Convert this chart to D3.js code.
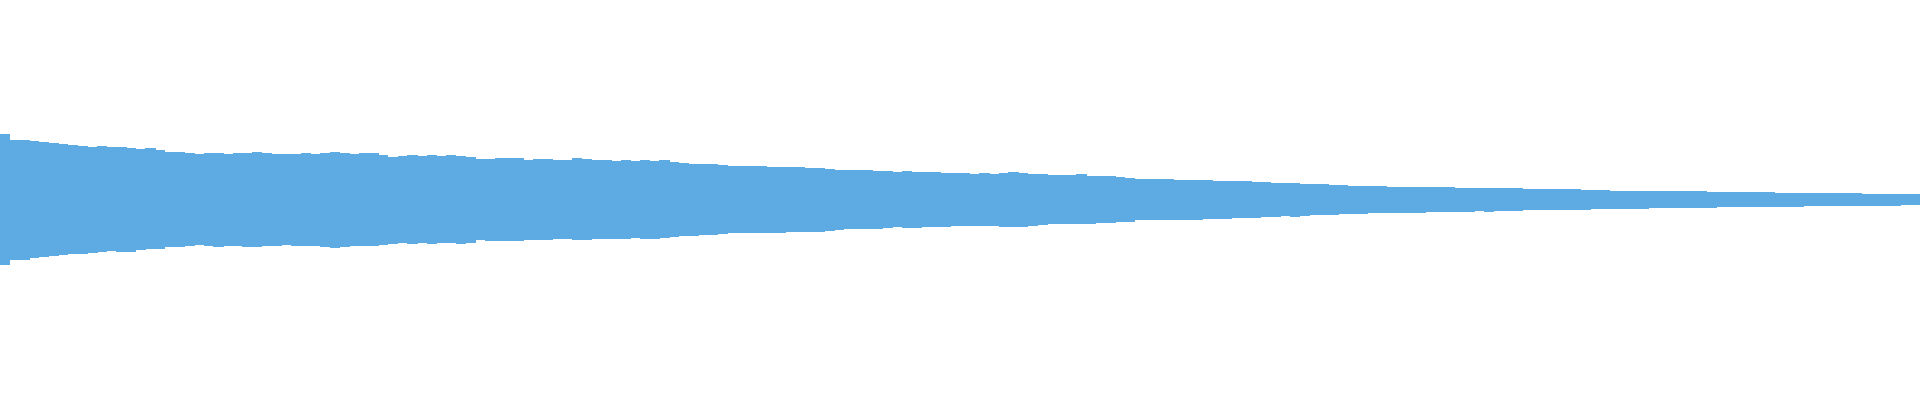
<!DOCTYPE html>
<html>
<head>
<meta charset="utf-8">
<style>
  html, body { margin: 0; padding: 0; background: #ffffff; overflow: hidden; }
  svg { display: block; }
</style>
<script src="https://cdn.jsdelivr.net/npm/d3@7/dist/d3.min.js"></script>
</head>
<body>
<svg id="chart"></svg>
<script>
// Waveform peaks (normalized amplitude, -1..1), one pair per column bucket
const peakMax = [
  0.330, 0.300, 0.300, 0.297, 0.289, 0.287, 0.279, 0.275, 0.272, 0.265, 0.269, 0.265, 0.267, 0.262, 0.257, 0.259, 0.252, 0.242, 0.239, 0.234, 0.229, 0.234,
  0.237, 0.232, 0.235, 0.235, 0.240, 0.235, 0.230, 0.229, 0.232, 0.235, 0.230, 0.235, 0.239, 0.235, 0.232, 0.235, 0.234, 0.225, 0.217, 0.222, 0.225, 0.222,
  0.224, 0.219, 0.225, 0.222, 0.217, 0.207, 0.207, 0.210, 0.212, 0.210, 0.202, 0.205, 0.204, 0.200, 0.199, 0.209, 0.207, 0.202, 0.199, 0.197, 0.202, 0.197,
  0.200, 0.197, 0.202, 0.190, 0.185, 0.179, 0.180, 0.179, 0.175, 0.170, 0.170, 0.172, 0.172, 0.167, 0.167, 0.165, 0.165, 0.162, 0.160, 0.157, 0.152, 0.149,
  0.150, 0.150, 0.147, 0.144, 0.140, 0.144, 0.140, 0.142, 0.140, 0.137, 0.134, 0.134, 0.132, 0.134, 0.132, 0.137, 0.139, 0.137, 0.132, 0.129, 0.124, 0.125,
  0.127, 0.129, 0.122, 0.122, 0.120, 0.115, 0.112, 0.105, 0.105, 0.105, 0.105, 0.100, 0.100, 0.100, 0.100, 0.097, 0.097, 0.095, 0.095, 0.090, 0.090, 0.087,
  0.087, 0.085, 0.080, 0.079, 0.079, 0.075, 0.074, 0.072, 0.072, 0.070, 0.070, 0.065, 0.065, 0.067, 0.065, 0.065, 0.065, 0.065, 0.060, 0.060, 0.060, 0.060,
  0.060, 0.060, 0.060, 0.055, 0.055, 0.055, 0.055, 0.055, 0.055, 0.050, 0.050, 0.050, 0.047, 0.047, 0.045, 0.045, 0.045, 0.045, 0.045, 0.044, 0.044, 0.044,
  0.040, 0.040, 0.040, 0.040, 0.040, 0.040, 0.039, 0.035, 0.035, 0.035, 0.035, 0.035, 0.035, 0.035, 0.035, 0.035, 0.030, 0.030, 0.030, 0.030, 0.030, 0.030
];
const peakMin = [
  -0.325, -0.300, -0.300, -0.292, -0.284, -0.280, -0.275, -0.269, -0.272, -0.264, -0.262, -0.255, -0.262, -0.259, -0.252, -0.247, -0.245, -0.235, -0.235, -0.229, -0.225, -0.230,
  -0.234, -0.230, -0.230, -0.235, -0.234, -0.232, -0.229, -0.225, -0.229, -0.232, -0.232, -0.234, -0.239, -0.235, -0.232, -0.232, -0.232, -0.225, -0.219, -0.217, -0.220, -0.217,
  -0.220, -0.215, -0.215, -0.219, -0.214, -0.202, -0.205, -0.205, -0.205, -0.205, -0.199, -0.200, -0.202, -0.197, -0.197, -0.202, -0.202, -0.197, -0.195, -0.194, -0.194, -0.192,
  -0.195, -0.194, -0.192, -0.185, -0.180, -0.179, -0.177, -0.175, -0.172, -0.167, -0.167, -0.167, -0.167, -0.165, -0.164, -0.162, -0.162, -0.160, -0.160, -0.155, -0.150, -0.147,
  -0.147, -0.144, -0.144, -0.140, -0.137, -0.139, -0.139, -0.137, -0.137, -0.134, -0.130, -0.130, -0.130, -0.130, -0.130, -0.134, -0.135, -0.134, -0.130, -0.125, -0.120, -0.122,
  -0.120, -0.122, -0.119, -0.117, -0.117, -0.112, -0.109, -0.102, -0.102, -0.102, -0.102, -0.100, -0.099, -0.099, -0.097, -0.094, -0.094, -0.092, -0.090, -0.089, -0.087, -0.084,
  -0.082, -0.084, -0.079, -0.077, -0.075, -0.074, -0.072, -0.070, -0.069, -0.067, -0.065, -0.065, -0.065, -0.065, -0.064, -0.060, -0.060, -0.060, -0.060, -0.060, -0.057, -0.059,
  -0.055, -0.055, -0.055, -0.052, -0.052, -0.050, -0.050, -0.050, -0.050, -0.049, -0.045, -0.045, -0.044, -0.044, -0.044, -0.044, -0.040, -0.040, -0.040, -0.040, -0.040, -0.039,
  -0.039, -0.037, -0.035, -0.035, -0.035, -0.035, -0.035, -0.034, -0.034, -0.034, -0.032, -0.032, -0.032, -0.030, -0.030, -0.029, -0.029, -0.029, -0.029, -0.029, -0.025, -0.027
];

const W = 1920, H = 400;
const waveColor = "#5dabe2";

const svg = d3.select("#chart").attr("width", W).attr("height", H);

const n = peakMax.length;
const x = d3.scaleLinear().domain([0, n]).range([0, W]);
const y = d3.scaleLinear().domain([-1, 1]).range([H, 0]);

const buckets = d3.range(n).map(i => ({ i, max: peakMax[i], min: peakMin[i] }));

svg.append("g")
  .attr("shape-rendering", "crispEdges")
  .selectAll("rect")
  .data(buckets)
  .join("rect")
  .attr("x", d => x(d.i))
  .attr("width", d => x(d.i + 1) - x(d.i) + 0.6)
  .attr("y", d => y(d.max))
  .attr("height", d => y(d.min) - y(d.max))
  .attr("fill", waveColor);
</script>
</body>
</html>
